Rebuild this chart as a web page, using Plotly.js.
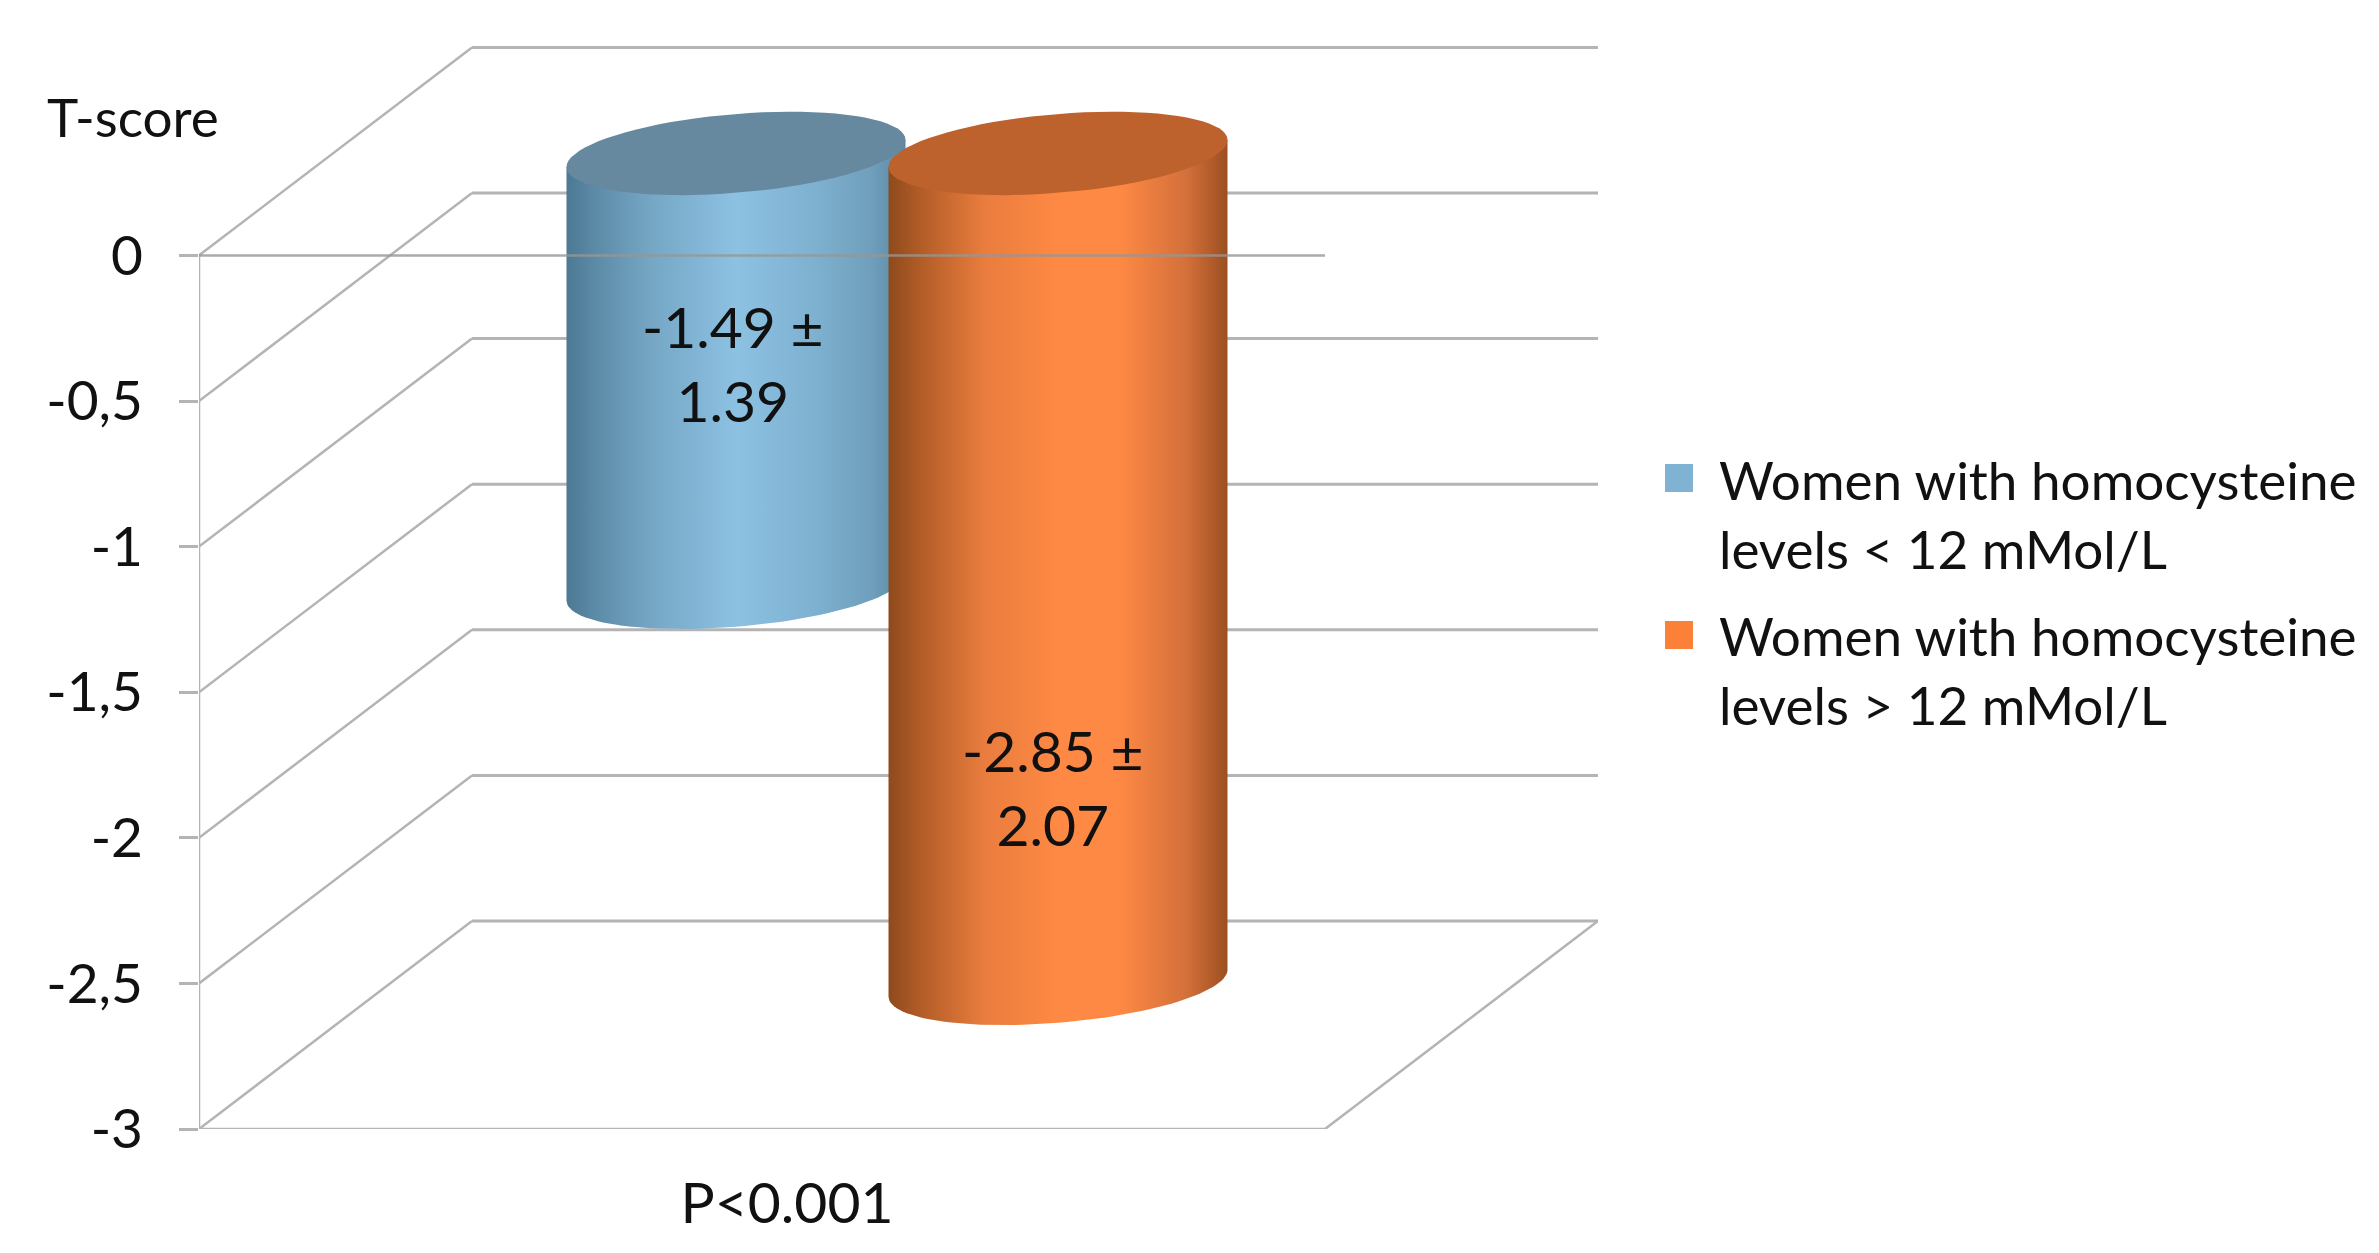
<!DOCTYPE html>
<html>
<head>
<meta charset="utf-8">
<script src="https://cdn.plot.ly/plotly-3.0.1.min.js"></script>
<style>
    html, body { margin: 0; padding: 0; background: #fff; }
    #chart { width: 2379px; height: 1253px; }
</style>
</head>
<body>
<div id="chart"></div>
<script>
// Values
const categoryLabel = "P<0.001";
const seriesNames = [
    "Women with homocysteine<br>levels < 12 mMol/L",
    "Women with homocysteine<br>levels > 12 mMol/L"
];
const seriesValues = [-1.49, -2.85];
const seriesLabels = ["-1.49 ±<br>1.39", "-2.85 ±<br>2.07"];
const tickValues = [0, -0.5, -1, -1.5, -2, -2.5, -3];
const tickLabels = ["0", "-0,5", "-1", "-1,5", "-2", "-2,5", "-3"];

// Layout of the fake 3D box, x runs 0..1 along the front of the floor
const pxX = 1126, pxY = 291.2;
const depthX = 273 / pxX, depthY = 208 / pxY;
const barCenters = [(736 - 199) / pxX, (1058 - 199) / pxX];
const barMidDepth = 102 / pxY;
const barRx = 169.5 / pxX, barRy = 39.5 / pxY, barShear = 13.5 / pxY;
const labelX = [0.474, 0.758];
const labelY = [-0.37, -1.825];

const gridColor = "#b4b4b4";
const textColor = "#111";
const fontName = "Lato, sans-serif";
const bodyScales = [
    [[0, "#4c7893"], [0.08, "#5b8aa6"], [0.25, "#75a7c5"], [0.5, "#8dc1e2"], [0.72, "#7fb2d1"], [0.9, "#6f9fbc"], [1, "#5a88a4"]],
    [[0, "#8e4a1c"], [0.1, "#b45d28"], [0.28, "#e97c3e"], [0.5, "#fe8944"], [0.68, "#fe8944"], [0.88, "#d3703a"], [1, "#9c4f20"]]
];
const lidColors = ["#66899f", "#bd622d"];
const legendColors = ["#7fb2d3", "#fb8038"];

function gridLine(x, y, color, width) {
    return {
        x: x, y: y, mode: "lines", cliponaxis: false, showlegend: false, hoverinfo: "skip",
        line: { color: color || gridColor, width: width || 3 }
    };
}

// Point on the slanted ellipse of a cylinder end
function ellipsePoint(cx, cy, t) {
    return [cx + barRx * Math.cos(t), cy + barRy * Math.sin(t) + barShear * Math.cos(t)];
}

function cylinderBody(i) {
    const cx = barCenters[i];
    const top = barMidDepth;
    const bottom = seriesValues[i] + barMidDepth;
    const xs = [], ys = [];
    for (let k = 0; k <= 60; k++) {
        const p = ellipsePoint(cx, bottom, Math.PI + (k / 60) * Math.PI);
        xs.push(p[0]);
        ys.push(p[1]);
    }
    const right = ellipsePoint(cx, top, 0);
    const left = ellipsePoint(cx, top, Math.PI);
    xs.push(right[0], left[0], xs[0]);
    ys.push(right[1], left[1], ys[0]);
    return {
        x: xs, y: ys, mode: "lines", fill: "toself", showlegend: false, hoverinfo: "skip",
        line: { width: 0 },
        fillgradient: { type: "horizontal", colorscale: bodyScales[i] }
    };
}

function cylinderLid(i) {
    const xs = [], ys = [];
    for (let k = 0; k <= 80; k++) {
        const p = ellipsePoint(barCenters[i], barMidDepth, (k / 80) * 2 * Math.PI);
        xs.push(p[0]);
        ys.push(p[1]);
    }
    return {
        x: xs, y: ys, mode: "lines", fill: "toself", fillcolor: lidColors[i],
        showlegend: false, hoverinfo: "skip", line: { width: 0 }
    };
}

let traces = [];

// Back wall lines and the diagonals of the side wall
tickValues.forEach((t) => {
    traces.push(gridLine([depthX, 1 + depthX], [t + depthY, t + depthY]));
    traces.push(gridLine([0, depthX], [t, t + depthY], gridColor, 2.5));
});

// Left wall, floor front and right floor edge
traces.push(gridLine([0, 0], [0, -3], gridColor, 2.5));
traces.push(gridLine([0, 1, 1 + depthX], [-3, -3, -3 + depthY], gridColor, 2.5));

seriesValues.forEach((v, i) => {
    traces.push(cylinderBody(i));
    traces.push(cylinderLid(i));
});

// The front zero line runs over the cylinders
traces.push(gridLine([0, 1], [0, 0], "rgba(150,150,150,0.8)", 2.5));

// Legend entries
seriesNames.forEach((name, i) => {
    traces.push({
        x: [null], y: [null], name: name, mode: "markers", hoverinfo: "skip",
        legendgroup: "s" + i,
        marker: { symbol: "square", size: 16, color: legendColors[i], line: { width: 5, color: legendColors[i] } }
    });
});

const labelAnnotations = seriesLabels.map((text, i) => ({
    x: labelX[i], y: labelY[i], text: text, showarrow: false,
    xanchor: "center", yanchor: "middle",
    font: { family: fontName, size: 57, color: textColor }
}));

// Legend markers stop growing at about 21px, the reference has 28px squares
const plotW = pxX + 273, plotH = 1129 - 20;
const swatchTops = [464, 621];
const swatchShapes = swatchTops.map((top, i) => ({
    type: "rect", xref: "paper", yref: "paper", layer: "above",
    x0: (1665 - 199) / plotW, x1: (1693 - 199) / plotW,
    y0: (1129 - top - 28) / plotH, y1: (1129 - top) / plotH,
    fillcolor: legendColors[i], line: { width: 0 }
}));

const layout = {
    width: 2379,
    height: 1253,
    paper_bgcolor: "#fff",
    plot_bgcolor: "#fff",
    margin: { l: 199, r: 781, t: 20, b: 124, pad: 0 },
    hovermode: false,
    shapes: swatchShapes,
    xaxis: {
        range: [0, 1 + depthX],
        showgrid: false, zeroline: false, showline: false,
        tickvals: [(787 - 199) / pxX],
        ticktext: [categoryLabel],
        ticks: "",
        ticklabelstandoff: 36,
        tickfont: { family: fontName, size: 57, color: textColor }
    },
    yaxis: {
        range: [-3, (1129 - 20) / pxY - 3],
        showgrid: false, zeroline: false, showline: false,
        tickvals: tickValues,
        ticktext: tickLabels,
        ticks: "outside", ticklen: 19, tickwidth: 3, tickcolor: gridColor,
        ticklabelstandoff: 25,
        tickfont: { family: fontName, size: 55, color: textColor }
    },
    legend: {
        x: 1.0307, y: 0.6227, xanchor: "left", yanchor: "top",
        bgcolor: "rgba(0,0,0,0)",
        itemsizing: "trace",
        itemwidth: 68,
        valign: "top",
        tracegroupgap: 15,
        font: { family: fontName, size: 53, color: textColor }
    },
    annotations: labelAnnotations.concat([{
        xref: "paper", yref: "paper",
        x: (45 - 199) / plotW, y: (1129 - 117) / plotH, text: "T-score", showarrow: false,
        xanchor: "left", yanchor: "middle",
        font: { family: fontName, size: 53, color: textColor }
    }])
};

Plotly.newPlot("chart", traces, layout, { displayModeBar: false, responsive: false });
</script>
</body>
</html>
